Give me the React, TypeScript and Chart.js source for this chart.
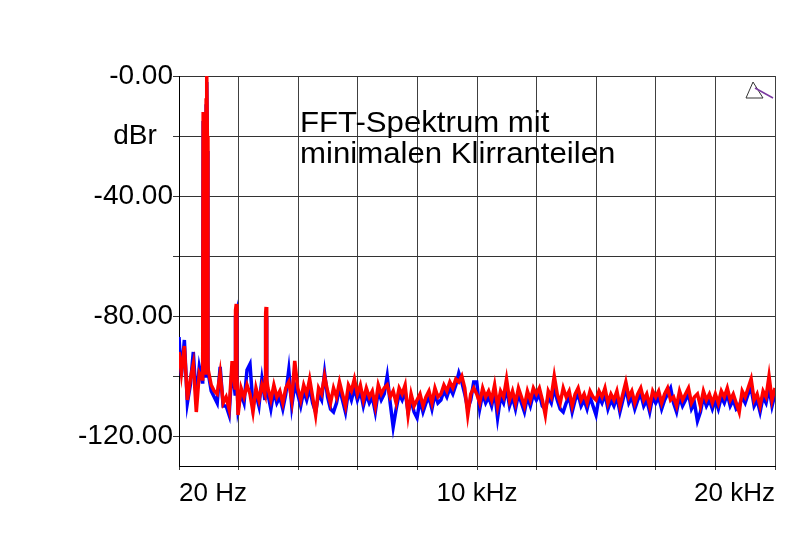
import { useEffect, useRef } from 'react';
import { Chart, registerables } from 'chart.js';

Chart.register(...registerables);

// FFT bins: first bin at 20 Hz, then every 100 Hz up to 20 kHz
const startHz = 20;
const binHz = 100;

const redDb = [
  -92, -99, -90, -108, -101, -96, -112, -99, -101, -99, -98, -103, -105, -106, -99, -109, -107, -111, -95, -104,
  -113, -104, -107, -103, -106, -112, -104, -108, -103, -106, -104, -108, -103, -107, -105, -109, -104, -102, -108, -95,
  -104, -108, -103, -106, -101, -107, -113, -104, -106, -100, -105, -109, -104, -107, -102, -106, -110, -103, -105, -101,
  -106, -103, -108, -104, -107, -105, -110, -103, -106, -104, -103, -107, -105, -109, -104, -106, -103, -113, -106, -110,
  -108, -106, -110, -107, -105, -109, -104, -107, -106, -103, -105, -102, -104, -101, -102, -100, -104, -113, -106, -104,
  -106, -109, -104, -107, -105, -108, -103, -110, -105, -107, -101, -108, -105, -109, -104, -107, -110, -105, -108, -104,
  -106, -104, -108, -113, -105, -107, -100, -106, -109, -104, -107, -105, -110, -106, -104, -108, -106, -109, -105, -107,
  -108, -105, -107, -104, -109, -106, -108, -105, -110, -106, -102, -107, -105, -109, -106, -104, -108, -106, -110, -105,
  -107, -105, -109, -106, -104, -108, -107, -110, -105, -108, -106, -104, -109, -107, -106, -110, -105, -108, -106, -109,
  -106, -109, -105, -107, -104, -108, -106, -109, -112, -105, -107, -104, -101, -108, -106, -110, -105, -107, -100, -108, -104,
];

const blueDb = [
  -87, -100, -88, -109, -103, -92, -108, -97, -102, -100, -99, -105, -107, -109, -97, -110, -110, -113, -97, -106,
  -111, -106, -109, -98, -96, -110, -106, -110, -101, -108, -106, -111, -105, -109, -107, -111, -106, -98, -110, -103,
  -106, -110, -105, -108, -104, -109, -112, -106, -108, -99, -107, -111, -112, -109, -104, -108, -112, -105, -108, -104,
  -108, -105, -110, -106, -109, -107, -112, -105, -108, -106, -100, -109, -117, -111, -106, -108, -105, -112, -108, -112,
  -114, -108, -112, -109, -107, -111, -106, -109, -108, -105, -107, -104, -106, -103, -99, -102, -106, -111, -108, -102,
  -102, -111, -106, -109, -107, -110, -105, -114, -107, -109, -104, -110, -107, -111, -106, -109, -112, -107, -110, -106,
  -108, -106, -110, -111, -107, -109, -104, -108, -111, -112, -109, -107, -112, -108, -106, -110, -108, -111, -107, -110,
  -113, -107, -109, -106, -111, -108, -110, -107, -112, -108, -104, -109, -107, -111, -108, -106, -110, -108, -112, -107,
  -109, -107, -111, -108, -106, -104, -109, -112, -107, -110, -108, -106, -111, -109, -115, -112, -107, -110, -108, -111,
  -108, -111, -107, -109, -106, -110, -108, -111, -110, -107, -109, -106, -104, -110, -108, -112, -107, -109, -104, -110, -106,
];

// fundamental (~950 Hz main lobe) and 2nd / 3rd harmonics
const peakHz = [815, 830, 850, 880, 905, 930, 950, 970, 990, 1905, 1925, 1940, 1960, 2905, 2925, 2940, 2960];
const redPeakDb = [-95, -12, -40, -14, -50, -8, 0, -20, -95, -100, -78, -76, -100, -101, -79, -77, -101];
const bluePeakDb = [-97, -15, -45, -18, -55, -10, -2, -25, -97, -102, -80, -79, -102, -103, -81, -80, -103];

const xTickHz = [20, 2018, 4016, 6014, 8012, 10010, 12008, 14006, 16004, 18002, 20000];
const xTickLabels = ['20 Hz', '', '', '', '', '10 kHz', '', '', '', '', '20 kHz'];
const yTickDb = [0, -20, -40, -60, -80, -100, -120];
const yTickLabels = ['-0.00', '', '-40.00', '', '-80.00', '', '-120.00'];
const yUnit = 'dBr';
const titleLines = ['FFT-Spektrum mit', 'minimalen Klirranteilen'];

const FONT = '"Liberation Sans", Arial, sans-serif';

function buildSeries(levels: number[], peaks: number[]) {
  const pts = levels.map((y, i) => ({ x: i === 0 ? startHz : i * binHz, y }));
  peakHz.forEach((x, k) => pts.push({ x, y: peaks[k] }));
  pts.sort((a, b) => a.x - b.x);
  return pts;
}

const overlay = {
  id: 'overlay',
  afterDraw(chart: any) {
    const { ctx, chartArea, scales } = chart;
    ctx.save();
    ctx.fillStyle = '#000';
    ctx.textAlign = 'left';
    ctx.textBaseline = 'alphabetic';
    ctx.font = `29px ${FONT}`;
    [56, 87].forEach((dy, k) => {
      ctx.save();
      ctx.translate(chartArea.left + 121, chartArea.top + dy);
      ctx.scale(1.075, 1);
      ctx.fillText(titleLines[k], 0, 0);
      ctx.restore();
    });

    ctx.font = `28px ${FONT}`;
    ctx.textAlign = 'center';
    ctx.textBaseline = 'middle';
    ctx.fillText(yUnit, chartArea.left - 44, scales.y.getPixelForValue(-20));

    const r = chartArea.right;
    const t = chartArea.top;
    ctx.strokeStyle = '#333';
    ctx.lineWidth = 1;
    ctx.beginPath();
    ctx.moveTo(r - 22, t + 6);
    ctx.lineTo(r - 29, t + 22);
    ctx.lineTo(r - 12, t + 22);
    ctx.closePath();
    ctx.stroke();
    ctx.strokeStyle = '#7a3aa0';
    ctx.lineWidth = 1.5;
    ctx.beginPath();
    ctx.moveTo(r - 20, t + 12);
    ctx.lineTo(r - 2, t + 22);
    ctx.stroke();
    ctx.restore();
  },
};

export default function App() {
  const ref = useRef<HTMLCanvasElement>(null);

  useEffect(() => {
    if (!ref.current) return;
    const chart = new Chart(ref.current, {
      type: 'line',
      data: {
        datasets: [
          {
            label: 'R',
            data: buildSeries(redDb, redPeakDb),
            borderColor: '#ff0000',
            borderWidth: 3.5,
            pointRadius: 0,
            tension: 0,
          },
          {
            label: 'L',
            data: buildSeries(blueDb, bluePeakDb),
            borderColor: '#0000ff',
            borderWidth: 3.5,
            pointRadius: 0,
            tension: 0,
          },
        ],
      },
      options: {
        responsive: false,
        animation: false,
        events: [],
        layout: { padding: { top: 76, right: 19, bottom: 0, left: 0 } },
        plugins: { legend: { display: false }, tooltip: { enabled: false }, title: { display: false } },
        scales: {
          x: {
            type: 'linear',
            min: 20,
            max: 20000,
            afterBuildTicks: (s: any) => {
              s.ticks = xTickHz.map((v) => ({ value: v }));
            },
            afterFit: (s: any) => {
              s.height = 93;
            },
            ticks: {
              autoSkip: false,
              maxRotation: 0,
              align: 'inner',
              padding: 8,
              color: '#000',
              font: { family: FONT, size: 26 },
              callback: (_v: any, i: number) => xTickLabels[i],
            },
            grid: { color: '#404040', lineWidth: 1, tickLength: 4, tickColor: '#404040' },
            border: { display: true, color: '#000', width: 1 },
          },
          y: {
            type: 'linear',
            min: -130,
            max: 0,
            afterBuildTicks: (s: any) => {
              s.ticks = yTickDb.map((v) => ({ value: v }));
            },
            afterFit: (s: any) => {
              s.width = 179;
            },
            ticks: {
              autoSkip: false,
              padding: 0,
              color: '#000',
              font: { family: FONT, size: 28 },
              callback: (_v: any, i: number) => yTickLabels[i],
            },
            grid: { color: '#333', lineWidth: 1, tickLength: 6, tickColor: '#333' },
            border: { display: true, color: '#000', width: 1 },
          },
        },
      },
      plugins: [overlay],
    });
    return () => chart.destroy();
  }, []);

  return (
    <div style={{ position: 'fixed', left: 0, top: 0, width: 794, height: 559, background: '#fff' }}>
      <canvas ref={ref} width={794} height={559} style={{ display: 'block' }} />
    </div>
  );
}
